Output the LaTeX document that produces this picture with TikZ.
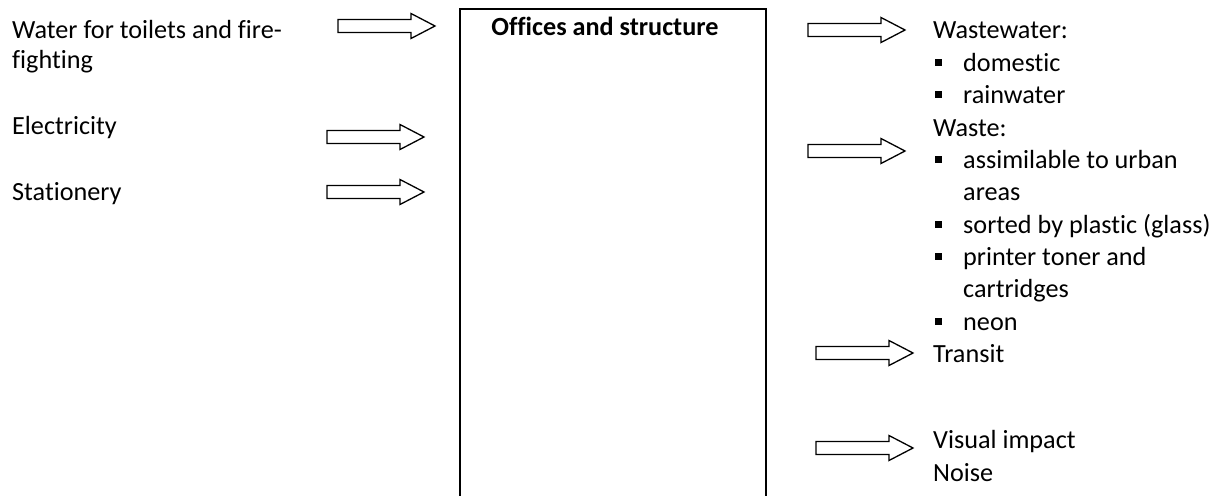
\documentclass[tikz,border=0pt]{standalone}
\usepackage{fontspec}
\setmainfont{Carlito}[Ligatures={NoCommon,NoContextual}]
\tikzset{
  barrow/.pic={\draw[line width=1.3pt, line join=miter]
    (0,-6.5) -- (73,-6.5) -- (73,-12.5) -- (97,0) -- (73,12.5) -- (73,6.5) -- (0,6.5) -- cycle;},
  lbl/.style={anchor=base west, inner sep=0pt, font=\fontsize{26.2}{30}\selectfont},
}
\newcommand{\sqbullet}{\rule[5pt]{7pt}{7pt}}
\begin{document}
\begin{tikzpicture}[x=1pt,y=-1pt]
\useasboundingbox (0,0) rectangle (1225,495);
\clip (0,0) rectangle (1225,495);
% central box
\coordinate (bl) at (460,520);
\coordinate (br) at (766,520);
\draw[line width=2.4pt] (bl) |- (766,9) -- (br);
\node[anchor=base, inner sep=0pt, font=\fontsize{26.2}{30}\selectfont\bfseries] (title) at (605,36) {Offices and structure};
% left inputs
\node[lbl] (w1) at (12,38) {Water for toilets and fire-};
\node[lbl] (w2) at (12,69) {fighting};
\node[lbl] (el) at (12,134) {Electricity};
\node[lbl] (st) at (12,200) {Stationery};
\pic (a1) at (338,26) {barrow};
\pic (a2) at (327,137) {barrow};
\pic (a3) at (327,192) {barrow};
% right outputs
\pic (r1) at (808,30) {barrow};
\pic (r2) at (808,151) {barrow};
\pic (r3) at (816,353) {barrow};
\pic (r4) at (816,448) {barrow};
\node[lbl] (ww) at (933,39) {Wastewater:};
\node[lbl] (b1) at (935,71) {\sqbullet};
\node[lbl] (t1) at (963,71) {domestic};
\node[lbl] (b2) at (935,103) {\sqbullet};
\node[lbl] (t2) at (963,103) {rainwater};
\node[lbl] (wa) at (933,136) {Waste:};
\node[lbl] (b3) at (935,168) {\sqbullet};
\node[lbl] (t3) at (963,168) {assimilable to urban};
\node[lbl] (t3b) at (963,200) {areas};
\node[lbl] (b4) at (935,233) {\sqbullet};
\node[lbl] (t4) at (963,233) {sorted by plastic (glass)};
\node[lbl] (b5) at (935,265) {\sqbullet};
\node[lbl] (t5) at (963,265) {printer toner and};
\node[lbl] (t5b) at (963,297) {cartridges};
\node[lbl] (b6) at (935,330) {\sqbullet};
\node[lbl] (t6) at (963,330) {neon};
\node[lbl] (tr) at (933,362) {Transit};
\node[lbl] (vi) at (933,448) {Visual impact};
\node[lbl] (no) at (933,481) {Noise};
\end{tikzpicture}
\end{document}
